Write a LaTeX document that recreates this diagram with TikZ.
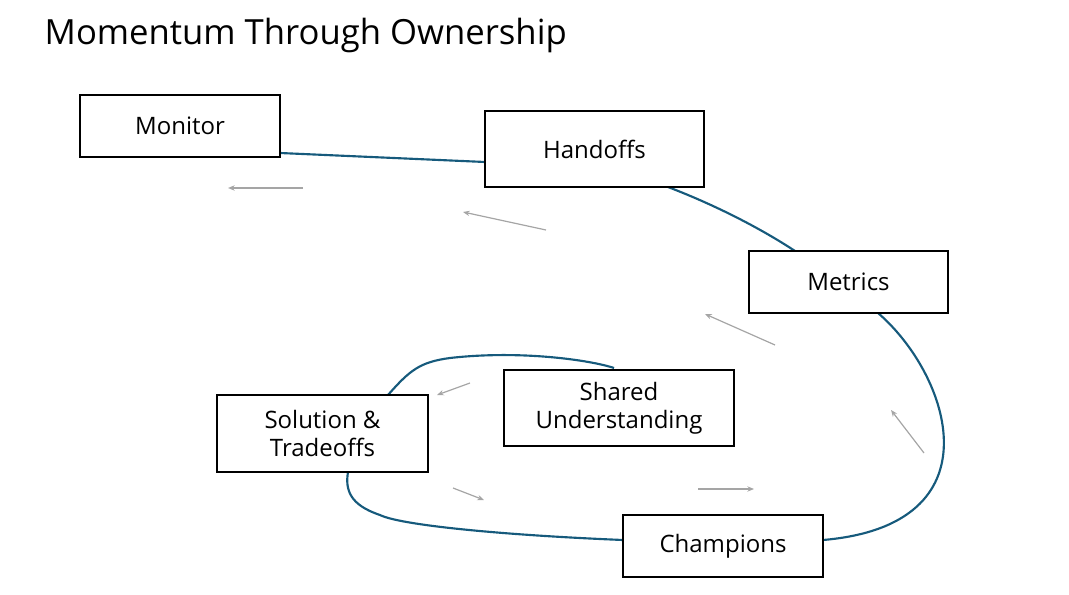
\documentclass[tikz,border=0pt]{standalone}
\usepackage{fontspec}
\setmainfont{Open Sans}
\usetikzlibrary{arrows.meta}
\begin{document}
\begin{tikzpicture}[x=0.75pt,y=-0.75pt,
  box/.style={draw=black,line width=1pt,fill=white,minimum height=#1,inner sep=0pt,align=center,font=\fontsize{18}{21}\selectfont},
  flow/.style={draw={rgb,255:red,22;green,90;blue,124},line width=1.6pt},
  garr/.style={draw={rgb,255:red,165;green,165;blue,165},line width=0.9pt,-{Stealth[length=5pt,width=4pt]}}]
\useasboundingbox (0,0) rectangle (1069,595);
\node[anchor=west,font=\fontsize{26}{30}\selectfont] (title) at (40,35) {Momentum Through Ownership};
% connectors first, boxes on top
\coordinate (m1) at (280,153); \coordinate (h1) at (485,162);
\coordinate (h2) at (668,187); \coordinate (t2) at (795,251);
\coordinate (t3) at (878,313); \coordinate (c3) at (823,540);
\coordinate (c4) at (623,540); \coordinate (s4) at (348,472);
\coordinate (s5) at (388,395); \coordinate (u5) at (614,368);
\draw[flow] (m1) -- (h1);
\draw[flow] (h2) .. controls (715,205) and (760,228) .. (t2);
\draw[flow] (t3) .. controls (950,375) and (1000,525) .. (c3);
\draw[flow] (c4) .. controls (500,535) and (400,525) .. (380,515) .. controls (350,505) and (345,490) .. (s4);
\draw[flow] (s5) .. controls (410,370) and (420,362) .. (450,358) .. controls (520,350) and (590,360) .. (u5);
\node[box=62pt*0.75,minimum width=200pt*0.75] (mon) at (180,126) {Monitor};
\node[box=76pt*0.75,minimum width=219pt*0.75] (hand) at (594.5,149) {Handoffs};
\node[box=62pt*0.75,minimum width=199pt*0.75] (met) at (848.5,282) {Metrics};
\node[box=76pt*0.75,minimum width=230pt*0.75] (sh) at (619,408) {Shared\\Understanding};
\node[box=77pt*0.75,minimum width=211pt*0.75] (sol) at (322.5,433.5) {Solution \&\\Tradeoffs};
\node[box=62pt*0.75,minimum width=200pt*0.75] (ch) at (723,546) {Champions};
\coordinate (a1) at (303,188); \coordinate (b1) at (228,188);
\coordinate (a2) at (546,230); \coordinate (b2) at (463,212);
\coordinate (a3) at (775,345); \coordinate (b3) at (705,314);
\coordinate (a4) at (470,383); \coordinate (b4) at (437,395);
\coordinate (a5) at (924,453); \coordinate (b5) at (891,410);
\coordinate (a6) at (453,488); \coordinate (b6) at (484,500);
\coordinate (a7) at (698,489); \coordinate (b7) at (754,489);
\foreach \i in {1,...,7} \draw[garr] (a\i) -- (b\i);
\end{tikzpicture}
\end{document}
